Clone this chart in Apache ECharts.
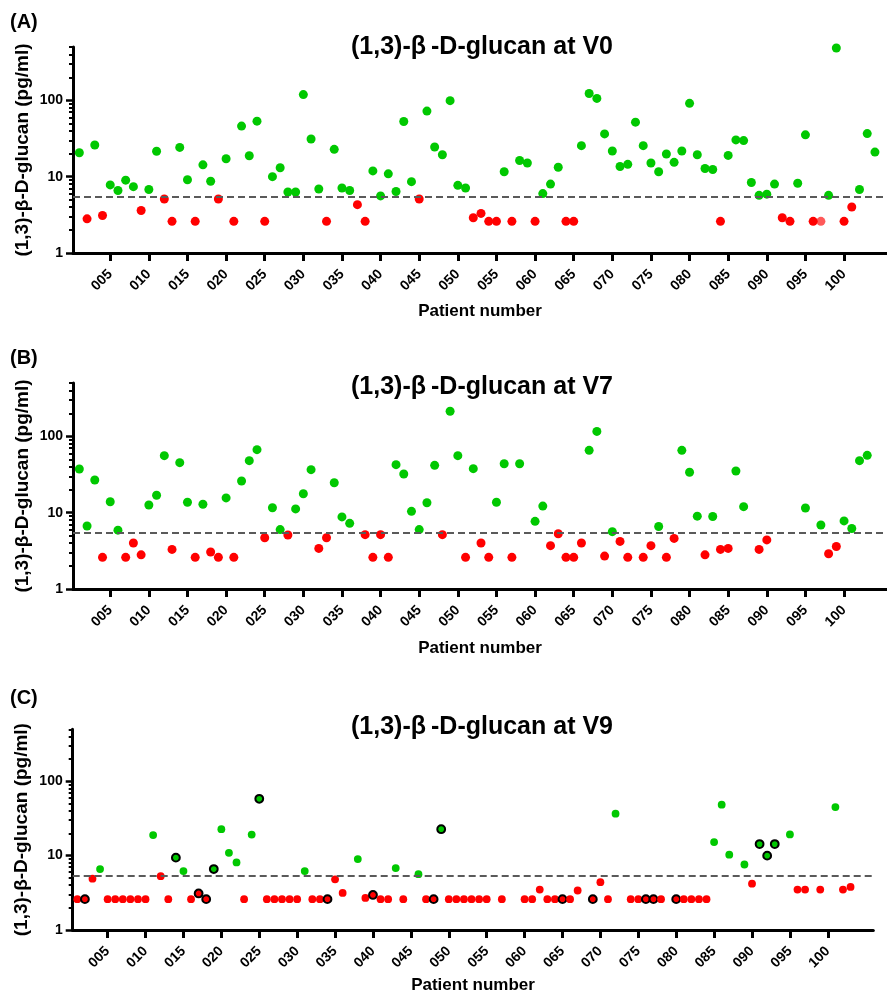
<!DOCTYPE html>
<html><head><meta charset="utf-8">
<script src="https://cdn.jsdelivr.net/npm/echarts@6/dist/echarts.min.js"></script>
<style>html,body{margin:0;padding:0;background:#fff}#c{width:887px;height:995px}</style>
</head><body><div id="c"></div>
<script>
// ---------- data ----------
const patientTicks = [5,10,15,20,25,30,35,40,45,50,55,60,65,70,75,80,85,90,95,100];
const yMajorValues = [1, 10, 100];
const yMinorValues = [2,3,4,5,6,7,8,9,20,30,40,50,60,70,80,90,200,300,400,500];
const cutoff = 5.4;
const panelLetters = ['(A)', '(B)', '(C)'];
const panelTitles = ['(1,3)-β\u2009-D-glucan at V0', '(1,3)-β\u2009-D-glucan at V7', '(1,3)-β\u2009-D-glucan at V9'];
const yAxisTitle = '(1,3)-β-D-glucan (pg/ml)';
const xAxisTitle = 'Patient number';

// values by patient number (index 0 = patient 001); null = no sample
const v0Values = [
  20.6, 2.8, 26, 3.1, 7.8, 6.6, 9.0, 7.4, 3.6, 6.8,
  21.5, 5.1, 2.6, 24.2, 9.1, 2.6, 14.3, 8.7, 5.1, 17.2,
  2.6, 46, 18.8, 53.4, 2.6, 10.0, 13.1, 6.3, 6.3, 119,
  31.2, 6.9, 2.6, 22.8, 7.1, 6.6, 4.3, 2.6, 11.9, 5.6,
  10.9, 6.4, 52.8, 8.6, 5.1, 72.3, 24.5, 19.4, 99, 7.7,
  7.1, 2.9, 3.3, 2.6, 2.6, 11.6, 2.6, 16.3, 15.1, 2.6,
  6.0, 8.0, 13.3, 2.6, 2.6, 25.5, 123, 106, 36.3, 21.7,
  13.6, 14.5, 51.8, 25.5, 15.1, 11.6, 19.8, 15.4, 21.7, 91.3,
  19.4, 12.8, 12.4, 2.6, 19.0, 30.3, 29.7, 8.4, 5.7, 5.9,
  8.0, 2.9, 2.6, 8.2, 35.3, 2.6, 2.6, 5.7, 485, 2.6,
  4.0, 6.8, 36.7, 21.0
];
const v0Faded = [97];

const v7Values = [
  37.3, 6.7, 26.8, 2.6, 13.9, 5.9, 2.6, 4.0, 2.8, 12.6,
  16.9, 55.8, 3.3, 45.2, 13.7, 2.6, 12.9, 3.05, 2.6, 15.6,
  2.6, 26.0, 48.0, 66.9, 4.7, 11.6, 6.0, 5.1, 11.2, 17.7,
  36.6, 3.4, 4.7, 24.7, 8.8, 7.25, null, 5.15, 2.6, 5.15,
  2.6, 42.6, 32.1, 10.4, 6.0, 13.5, 41.7, 5.15, 213, 55.8,
  2.6, 37.7, 4.0, 2.6, 13.7, 43.8, 2.6, 43.8, null, 7.7,
  12.2, 3.7, 5.3, 2.6, 2.6, 4.0, 65.6, 116, 2.7, 5.64,
  4.2, 2.6, null, 2.6, 3.7, 6.6, 2.6, 4.6, 65.6, 33.8,
  9.0, 2.8, 8.9, 3.3, 3.4, 35.1, 12.0, null, 3.3, 4.4,
  null, null, null, null, 11.5, null, 6.9, 2.9, 3.6, 7.8,
  6.2, 48.0, 56.4, null
];

const v9Values = [
  2.6, 2.6, 4.9, 6.6, 2.6, 2.6, 2.6, 2.6, 2.6, 2.6,
  18.9, 5.3, 2.6, 9.4, 6.2, 2.6, 3.1, 2.6, 6.6, 22.7,
  10.9, 8.1, 2.6, 19.2, 58.1, 2.6, 2.6, 2.6, 2.6, 2.6,
  6.2, 2.6, 2.6, 2.6, 4.8, 3.15, null, 9.0, 2.7, 2.96,
  2.6, 2.6, 6.8, 2.6, null, 5.64, 2.6, 2.6, 22.7, 2.6,
  2.6, 2.6, 2.6, 2.6, 2.6, null, 2.6, null, null, 2.6,
  2.6, 3.5, 2.6, 2.6, 2.6, 2.6, 3.4, null, 2.6, 4.4,
  2.6, 36.7, null, 2.6, 2.6, 2.6, 2.6, 2.6, null, 2.6,
  2.6, 2.6, 2.6, 2.6, 15.2, 48.4, 10.3, null, 7.6, 4.2,
  14.3, 10.0, 14.3, null, 19.3, 3.5, 3.5, null, 3.5, null,
  45, 3.5, 3.8
];
const v9Ringed = [2, 14, 17, 18, 19, 25, 34, 40, 48, 49, 65, 69, 76, 77, 80, 91, 92, 93];

// ---------- styling / layout ----------
const GREEN = '#00c800', RED = '#ff0000';
const FONT = 'Liberation Sans, Arial, sans-serif';
const panels = [
  {values: v0Values, ringed: [], faded: v0Faded, left: 73, top: 47, width: 814, height: 206,
   xMin: 0.18, xMax: 105.56, size: 9, xNameGap: 50, letterTop: 12, titleTop: 35},
  {values: v7Values, ringed: [], faded: [], left: 73, top: 383, width: 814, height: 206,
   xMin: 0.18, xMax: 105.56, size: 9, xNameGap: 51, letterTop: 348, titleTop: 375},
  {values: v9Values, ringed: v9Ringed, faded: [], left: 72.7, top: 729.3, width: 800.6, height: 202.4,
   xMin: 0.39, xMax: 106, size: 7.8, xNameGap: 47, letterTop: 688, titleTop: 715}
];
const LOGMAX = Math.log10(500);

const option = {
  backgroundColor: '#fff',
  animation: false,
  title: [], grid: [], xAxis: [], yAxis: [], series: []
};

panels.forEach((pn, i) => {
  option.title.push({text: panelLetters[i], left: 10, top: pn.letterTop, padding: 0,
    textStyle: {fontFamily: FONT, fontSize: 20, fontWeight: 'bold', color: '#000'}});
  option.title.push({text: panelTitles[i], left: 482, textAlign: 'center', top: pn.titleTop, padding: 0,
    textStyle: {fontFamily: FONT, fontSize: 25, fontWeight: 'bold', color: '#000'}});
  option.grid.push({left: pn.left, top: pn.top, width: pn.width, height: pn.height, containLabel: false});

  option.xAxis.push({
    type: 'value', gridIndex: i, min: pn.xMin, max: pn.xMax,
    axisLine: {show: true, onZero: false, lineStyle: {color: '#000', width: 3}},
    axisTick: {show: true, customValues: patientTicks, length: 8, lineStyle: {color: '#000', width: 3}},
    axisLabel: {customValues: patientTicks, rotate: 45, margin: 19,
      formatter: v => String(Math.round(v)).padStart(3, '0'),
      fontFamily: FONT, fontSize: 14, fontWeight: 'bold', color: '#000'},
    splitLine: {show: false},
    name: xAxisTitle, nameLocation: 'middle', nameGap: pn.xNameGap,
    nameTextStyle: {fontFamily: FONT, fontSize: 17, fontWeight: 'bold', color: '#000'}
  });

  const yBase = option.yAxis.length;
  // data axis (log)
  option.yAxis.push({
    type: 'log', logBase: 10, gridIndex: i, min: 1, max: 500,
    axisLine: {show: true, onZero: false, lineStyle: {color: '#000', width: 3}},
    axisTick: {show: false}, axisLabel: {show: false}, splitLine: {show: false},
    name: yAxisTitle, nameLocation: 'middle', nameRotate: 90, nameGap: 41,
    nameTextStyle: {fontFamily: FONT, fontSize: 19, fontWeight: 'bold', color: '#000'}
  });
  // major ticks + labels (positions in log10 space of the same range)
  option.yAxis.push({
    type: 'value', gridIndex: i, min: 0, max: LOGMAX, position: 'left',
    axisLine: {show: false}, splitLine: {show: false},
    axisTick: {show: true, customValues: yMajorValues.map(Math.log10), length: 7, lineStyle: {color: '#000', width: 2.5}},
    axisLabel: {customValues: yMajorValues.map(Math.log10), margin: 10,
      formatter: v => String(Math.round(Math.pow(10, v))),
      fontFamily: FONT, fontSize: 14, fontWeight: 'bold', color: '#000'}
  });
  // minor ticks
  option.yAxis.push({
    type: 'value', gridIndex: i, min: 0, max: LOGMAX, position: 'left',
    axisLine: {show: false}, splitLine: {show: false}, axisLabel: {show: false},
    axisTick: {show: true, customValues: yMinorValues.map(Math.log10), length: 4, lineStyle: {color: '#000', width: 2}}
  });

  const pos = [], neg = [];
  pn.values.forEach((v, k) => {
    if (v == null) return;
    const p = k + 1;
    const item = {value: [p, v]};
    if (pn.ringed.includes(p)) item.itemStyle = {borderColor: '#000', borderWidth: 2};
    if (pn.faded.includes(p)) item.itemStyle = {opacity: 0.65};
    (v > cutoff ? pos : neg).push(item);
  });

  option.series.push({
    type: 'scatter', xAxisIndex: i, yAxisIndex: yBase, data: [], z: 1, silent: true,
    markLine: {silent: true, symbol: ['none', 'none'], label: {show: false},
      lineStyle: {type: [7, 4], color: '#5a5a5a', width: 2},
      data: [{yAxis: cutoff}]}
  });
  option.series.push({
    type: 'scatter', xAxisIndex: i, yAxisIndex: yBase, data: neg, z: 3,
    symbol: 'circle', symbolSize: pn.size, itemStyle: {color: RED, opacity: 1}
  });
  option.series.push({
    type: 'scatter', xAxisIndex: i, yAxisIndex: yBase, data: pos, z: 4,
    symbol: 'circle', symbolSize: pn.size, itemStyle: {color: GREEN, opacity: 1}
  });
});

const chart = echarts.init(document.getElementById('c'), null, {renderer: 'canvas'});
chart.setOption(option);
</script>
</body></html>
